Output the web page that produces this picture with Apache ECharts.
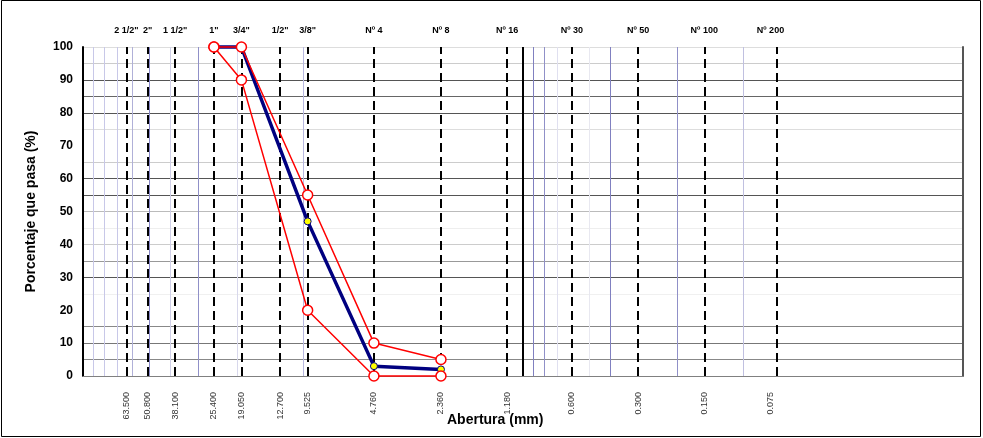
<!DOCTYPE html>
<html>
<head>
<meta charset="utf-8">
<script src="https://cdn.jsdelivr.net/npm/echarts@6/dist/echarts.min.js"></script>
<style>html,body{margin:0;padding:0;background:#fff}#c{width:983px;height:438px}</style>
</head>
<body>
<div id="c"></div>
<script>
// Sieve openings (mm) and names
var sieveSizes = [63.5, 50.8, 38.1, 25.4, 19.05, 12.7, 9.525, 4.76, 2.36, 1.18, 0.6, 0.3, 0.15, 0.075];
var sieveNames = ['2 1/2"', '2"', '1 1/2"', '1"', '3/4"', '1/2"', '3/8"', 'Nº 4', 'Nº 8', 'Nº 16', 'Nº 30', 'Nº 50', 'Nº 100', 'Nº 200'];
// Sample data
var sampleSizes = [25.4, 19.05, 9.525, 4.76, 2.36];
var passing = [100, 100, 47, 3, 2];
var upperLimit = [100, 100, 55, 10, 5];
var lowerLimit = [100, 90, 20, 0, 0];
// Minor log grid lines (mm)
var minorLines = [90, 80, 70, 60, 50, 40, 30, 20, 10, 0.9, 0.8, 0.7, 0.5, 0.4, 0.2, 0.1];
var minorColors = ['#c8c8e8', '#c8c8e8', '#c8c8e8', '#b0b0d8', '#8888c8', '#d0d0e8', '#9090c8', '#d8d8ec', '#b8b8e0',
                   '#8080c0', '#9090c8', '#e0e0f0', '#e8e8f0', '#8080c0', '#9090c8', '#c0c0e0'];
var solidLine = [1];
// Horizontal grid colours from 0 to 100 step 5
var hColors = ['rgba(0,0,0,0)', '#888', '#777', '#888', 'rgba(0,0,0,0)', '#f0f0f0', '#555', '#999', '#ccc', '#eee', '#bbb',
               '#555', '#555', '#ccc', 'rgba(0,0,0,0)', '#ddd', '#555', '#666', '#555', '#ccc', '#ddd'];

function pair(xs, ys) { return xs.map(function (x, i) { return [x, ys[i]]; }); }
function nearestName(v) {
  var best = 0, bd = Infinity;
  for (var i = 0; i < sieveSizes.length; i++) {
    var d = Math.abs(Math.log(sieveSizes[i]) - Math.log(v));
    if (d < bd) { bd = d; best = i; }
  }
  return sieveNames[best];
}

var FONT = 'Arial, "Liberation Sans", sans-serif';
var chart = echarts.init(document.getElementById('c'), null, {renderer: 'canvas'});

var markData = [];
minorLines.forEach(function (v, i) {
  markData.push({xAxis: v, lineStyle: {color: minorColors[i], width: 1, type: 'solid'}});
});
solidLine.forEach(function (v) {
  markData.push({xAxis: v, lineStyle: {color: '#000', width: 2, type: 'solid'}});
});
sieveSizes.forEach(function (v) {
  markData.push({xAxis: v, lineStyle: {color: '#000', width: 2, type: [9, 5]}});
});

chart.setOption({
  animation: false,
  backgroundColor: '#fff',
  grid: {left: 83, right: 20, top: 47, bottom: 62, containLabel: false, outerBoundsMode: 'none'},
  xAxis: [{
    type: 'log', min: 0.01, max: 100, inverse: true, position: 'bottom',
    axisLine: {show: true, onZero: false, lineStyle: {color: '#808080', width: 1}},
    axisTick: {show: false},
    splitLine: {show: false},
    minorSplitLine: {show: false},
    axisLabel: {
      customValues: sieveSizes, rotate: 90, margin: 16,
      fontFamily: FONT, fontSize: 9, color: '#333',
      formatter: function (v) { return Number(v).toFixed(3); }
    }
  }, {
    type: 'log', min: 0.01, max: 100, inverse: true, position: 'top',
    axisLine: {show: false},
    axisTick: {show: false},
    splitLine: {show: false},
    axisLabel: {
      customValues: sieveSizes, margin: 12,
      fontFamily: FONT, fontSize: 9, fontWeight: 'bold', color: '#000',
      formatter: function (v) { return nearestName(Number(v)); }
    }
  }],
  yAxis: [{
    type: 'value', min: 0, max: 100, interval: 5,
    name: 'Porcentaje que pasa (%)', nameLocation: 'middle', nameGap: 45, nameRotate: 90,
    nameTextStyle: {fontFamily: FONT, fontSize: 14, fontWeight: 'bold', color: '#000'},
    axisLine: {show: true, lineStyle: {color: '#000', width: 2}},
    axisTick: {show: false},
    axisLabel: {
      fontFamily: FONT, fontSize: 12, fontWeight: 'bold', color: '#000', margin: 10,
      formatter: function (v) { return v % 10 === 0 ? String(v) : ''; }
    },
    splitLine: {show: true, lineStyle: {color: hColors, width: 1}}
  }, {
    type: 'value', min: 0, max: 100, interval: 5, position: 'right',
    axisLine: {show: true, lineStyle: {color: '#555', width: 2}},
    axisTick: {show: false}, axisLabel: {show: false}, splitLine: {show: false}
  }],
  graphic: [
    {type: 'rect', shape: {x: 1.5, y: 0.5, width: 979, height: 436}, style: {fill: 'none', stroke: '#000', lineWidth: 1}, z: 100},
    {type: 'text', left: 447, top: 413, style: {text: 'Abertura (mm)', font: 'bold 14px ' + FONT, fill: '#000'}}
  ],
  series: [{
    name: 'grid', type: 'line', data: [], silent: true, z: 1,
    markLine: {symbol: ['none', 'none'], silent: true, z: 1, label: {show: false}, data: markData, animation: false}
  }, {
    name: 'Muestra', type: 'line', data: pair(sampleSizes, passing), clip: false, z: 6,
    lineStyle: {color: '#000080', width: 3.5},
    symbol: 'circle', symbolSize: 7,
    itemStyle: {color: '#ffff00', borderColor: '#000080', borderWidth: 1}
  }, {
    name: 'Límite superior', type: 'line', data: pair(sampleSizes, upperLimit), clip: false, z: 7,
    lineStyle: {color: '#ff0000', width: 1.5},
    symbol: 'circle', symbolSize: 10,
    itemStyle: {color: '#ffffff', borderColor: '#ff0000', borderWidth: 1.5}
  }, {
    name: 'Límite inferior', type: 'line', data: pair(sampleSizes, lowerLimit), clip: false, z: 7,
    lineStyle: {color: '#ff0000', width: 1.5},
    symbol: 'circle', symbolSize: 10,
    itemStyle: {color: '#ffffff', borderColor: '#ff0000', borderWidth: 1.5}
  }]
});
</script>
</body>
</html>
